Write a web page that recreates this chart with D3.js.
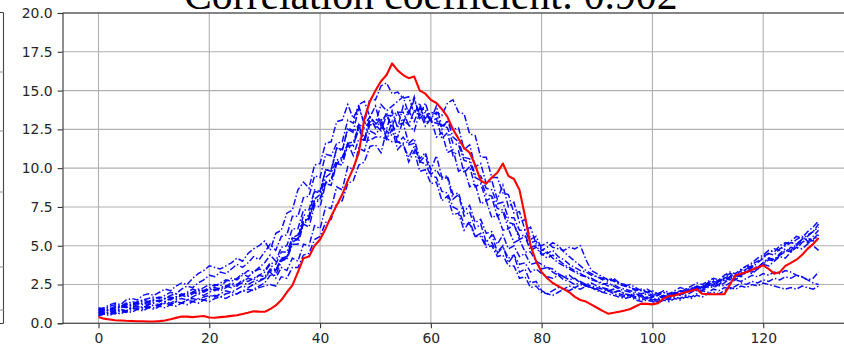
<!DOCTYPE html>
<html><head><meta charset="utf-8">
<script src="https://cdn.jsdelivr.net/npm/d3@7"></script>
<style>html,body{margin:0;padding:0;background:#fff;overflow:hidden}</style>
</head><body><svg id="c" width="844" height="348"></svg>
<script>
const titleText = "Correlation coefficient: 0.902";
const xTicks = [0, 20, 40, 60, 80, 100, 120];
const yTicks = [0, 2.5, 5, 7.5, 10, 12.5, 15, 17.5, 20];
const timeSteps = d3.range(0, 131);

const observed = [
0.40,0.30,0.25,0.20,0.18,0.16,0.15,0.13,0.13,0.12,
0.12,0.14,0.18,0.26,0.35,0.44,0.43,0.40,0.44,0.47,
0.37,0.36,0.40,0.43,0.48,0.52,0.60,0.68,0.77,0.75,
0.74,0.92,1.15,1.50,2.00,2.45,3.30,4.20,4.30,5.00,
5.40,6.10,6.90,7.60,8.30,9.20,10.0,11.0,13.2,14.3,
15.0,15.6,16.0,16.75,16.3,16.0,15.8,15.9,15.0,14.8,
14.4,14.2,13.8,13.3,12.5,11.9,11.3,11.0,10.2,9.2,
9.0,9.4,9.7,10.3,9.5,9.3,8.6,6.9,5.0,4.0,
3.3,2.9,2.6,2.4,2.2,2.0,1.7,1.5,1.4,1.2,
1.0,0.8,0.62,0.68,0.75,0.82,0.92,1.1,1.27,1.25,
1.22,1.3,1.6,1.75,1.8,1.9,2.0,2.1,2.2,1.9,
1.88,1.87,1.87,1.88,2.5,3.1,3.2,3.3,3.45,3.6,
3.74,3.5,3.2,3.3,3.7,3.9,4.1,4.4,4.8,5.1,
5.5];

const member1 = [
0.9,1.0,1.2,1.3,1.2,1.5,1.6,1.5,1.8,1.9,
1.8,2.0,2.2,2.1,2.4,2.6,2.5,2.9,3.2,3.4,
3.7,3.6,3.5,3.7,3.9,4.2,4.0,4.5,4.8,5.0,
5.3,4.7,5.8,6.0,7.1,7.3,8.6,9.1,8.7,10.2,
10.3,11.6,11.7,13.0,13.1,14.1,13.2,14.0,12.8,13.3,
12.6,13.0,11.9,12.5,11.2,11.6,10.4,11.1,9.8,9.9,
9.0,9.1,7.9,8.2,7.0,7.1,6.0,6.6,5.6,5.8,
5.0,5.2,4.5,4.9,4.2,4.4,3.8,3.9,3.3,3.5,
3.2,3.0,2.9,3.1,2.8,2.7,2.5,2.6,2.4,2.3,
2.2,2.3,2.1,2.0,2.1,1.9,1.8,1.7,1.8,1.6,
1.5,1.6,1.8,1.7,1.9,2.1,2.0,2.2,2.4,2.3,
2.6,2.8,2.7,3.0,3.2,3.1,3.4,3.7,3.6,3.9,
4.2,4.5,4.4,4.8,5.0,5.2,5.1,5.4,5.7,5.9,
6.2];
const member2 = [
0.7,0.8,0.9,1.1,1.0,1.2,1.4,1.3,1.5,1.6,
1.7,1.6,1.8,2.0,1.9,2.2,2.4,2.3,2.6,2.8,
3.1,3.0,3.3,3.2,3.5,3.8,3.6,3.9,4.3,4.1,
4.6,5.1,4.7,5.6,5.7,6.9,6.9,8.1,8.2,9.5,
9.4,10.9,10.8,11.6,11.7,13.1,12.9,14.1,14.3,13.3,
14.0,12.7,13.6,12.4,12.8,12.9,11.6,11.9,10.6,11.0,
9.9,10.8,9.4,9.5,8.3,8.4,7.2,7.6,6.5,6.7,
5.8,5.9,5.1,5.7,4.8,5.0,4.3,4.5,3.8,3.9,
3.5,3.6,3.3,3.1,3.0,2.8,2.9,2.6,2.5,2.4,
2.3,2.2,2.1,2.2,1.9,1.8,1.9,1.7,1.6,1.7,
1.6,1.5,1.7,1.6,1.8,1.9,1.8,2.0,2.2,2.1,
2.3,2.5,2.4,2.6,2.9,2.8,3.1,3.3,3.2,3.5,
3.8,3.7,4.0,4.3,4.2,4.6,4.9,4.8,5.1,5.4,
5.8];
const member3 = [
0.8,0.7,0.9,0.8,1.0,1.1,1.0,1.2,1.3,1.2,
1.4,1.5,1.4,1.6,1.7,1.9,1.8,2.0,2.2,2.1,
2.3,2.5,2.4,2.7,2.9,2.8,3.1,3.4,3.3,3.6,
3.9,4.4,4.0,4.9,5.0,6.1,6.1,7.3,7.3,8.6,
8.5,9.9,9.8,11.3,11.1,12.6,12.4,13.9,12.9,14.5,
14.4,15.3,15.5,14.8,14.9,14.5,14.6,13.5,14.2,12.9,
13.2,12.0,12.3,11.0,11.2,9.8,10.0,8.8,9.0,7.7,
7.9,6.8,7.0,6.0,6.1,5.2,5.4,4.6,4.6,4.0,
3.8,3.6,3.5,3.2,3.0,3.1,2.8,2.7,2.5,2.6,
2.4,2.3,2.2,2.0,2.1,1.9,1.8,1.9,1.7,1.6,
1.7,1.8,1.6,1.8,1.9,1.8,2.0,2.2,2.1,2.4,
2.5,2.4,2.7,2.9,2.8,3.1,3.0,3.3,3.6,3.5,
3.8,4.1,4.0,4.4,4.7,4.6,5.0,5.3,5.2,5.6,
6.0];
const member4 = [
0.6,0.7,0.6,0.8,0.9,0.8,1.0,1.1,1.0,1.2,
1.3,1.2,1.4,1.3,1.5,1.6,1.5,1.7,1.9,1.8,
2.0,2.2,2.1,2.3,2.5,2.4,2.7,2.9,2.8,3.1,
3.3,3.8,3.4,4.1,4.1,5.1,5.1,6.4,6.2,7.6,
7.5,9.0,8.9,10.3,10.2,11.5,11.4,12.8,11.8,13.3,
12.9,14.1,13.7,14.0,14.3,14.6,13.5,14.6,13.2,13.6,
13.0,13.2,11.9,12.3,10.8,11.1,9.7,10.1,8.8,9.0,
7.9,8.1,6.9,7.2,6.1,6.4,5.4,5.6,4.7,4.9,
4.4,4.6,4.2,3.9,3.7,3.5,3.3,3.1,3.0,2.8,
2.7,2.6,2.4,2.5,2.3,2.2,2.1,2.0,1.9,2.0,
1.8,1.9,1.7,1.8,2.0,1.9,2.1,2.3,2.2,2.4,
2.6,2.5,2.8,2.7,3.0,3.2,3.1,3.4,3.7,3.6,
3.9,4.2,4.1,4.4,4.6,4.9,4.8,5.2,5.5,5.3,
5.7];
const member5 = [
0.5,0.6,0.7,0.6,0.8,0.7,0.9,1.0,0.9,1.1,
1.0,1.2,1.3,1.2,1.4,1.3,1.5,1.6,1.5,1.7,
1.8,1.7,1.9,2.1,2.0,2.2,2.4,2.3,2.5,2.7,
2.9,3.4,3.3,4.2,4.2,5.5,5.4,7.0,6.9,8.5,
8.4,9.9,9.9,11.3,11.2,12.5,12.3,12.8,12.6,13.0,
12.8,13.2,11.9,13.0,11.6,12.0,11.5,11.6,10.4,10.8,
9.6,9.9,9.3,9.4,8.0,8.3,6.9,7.2,6.1,6.4,
5.2,5.7,4.6,5.0,3.9,4.4,3.3,3.5,2.6,2.7,
2.1,1.9,2.1,2.3,2.2,2.4,2.3,2.5,2.4,2.3,
2.2,2.0,2.1,1.9,1.8,1.7,1.8,1.6,1.5,1.6,
1.5,1.4,1.6,1.5,1.7,1.6,1.8,1.7,1.9,2.1,
2.0,2.2,2.1,2.3,2.2,2.4,2.6,2.5,2.7,2.6,
2.8,2.7,2.9,2.8,3.0,2.9,3.1,3.0,2.8,2.9,
3.3];
const member6 = [
0.9,0.8,1.0,0.9,1.1,1.2,1.1,1.3,1.4,1.3,
1.5,1.4,1.6,1.7,1.6,1.8,1.9,2.0,1.9,2.1,
2.2,2.1,2.3,2.4,2.3,2.5,2.6,2.5,2.7,2.8,
2.9,3.3,2.9,3.6,3.4,4.2,4.0,5.1,5.0,6.3,
6.1,7.5,7.4,8.8,8.6,10.1,9.9,11.3,11.1,12.4,
12.2,12.6,12.5,13.7,12.6,14.0,13.5,14.4,13.4,14.2,
13.1,14.0,12.7,13.0,12.5,12.6,11.2,11.5,10.1,10.3,
9.0,9.2,8.0,8.9,7.5,7.8,6.5,6.7,5.4,5.6,
4.8,4.5,4.7,4.3,4.1,3.8,3.6,3.4,3.3,3.1,
3.0,2.8,2.9,2.7,2.6,2.5,2.3,2.2,2.1,2.0,
2.1,1.9,2.0,1.8,1.9,2.1,2.0,2.2,2.4,2.3,
2.5,2.7,2.6,2.9,3.1,3.0,3.3,3.5,3.8,4.0,
4.3,4.5,4.8,4.7,5.1,5.3,5.6,5.5,5.9,6.2,
6.6];
const member7 = [
0.7,0.6,0.8,0.7,0.9,0.8,1.0,0.9,1.1,1.0,
1.2,1.1,1.3,1.2,1.4,1.3,1.5,1.4,1.6,1.5,
1.7,1.8,1.7,1.9,2.0,1.9,2.1,2.2,2.1,2.3,
2.4,2.5,2.4,3.0,2.9,3.6,3.6,4.4,4.5,5.4,
5.6,6.5,6.7,7.7,7.9,9.0,9.2,10.2,10.4,11.4,
11.5,11.0,12.4,12.1,12.0,13.1,12.8,12.4,13.6,12.7,
13.2,13.6,13.4,14.2,14.4,13.6,13.5,12.2,12.1,10.7,
10.7,9.4,9.4,8.4,8.3,7.1,7.2,6.0,6.2,5.1,
5.0,5.2,4.9,4.8,4.7,4.9,4.8,5.0,4.1,3.4,
3.2,3.0,2.8,2.9,2.6,2.4,2.5,2.3,2.1,2.2,
2.0,1.9,2.1,2.0,1.8,2.0,2.2,2.1,2.3,2.2,
2.4,2.3,2.5,2.4,2.6,2.8,2.7,2.9,3.1,3.0,
3.2,3.1,3.3,3.2,3.4,3.3,3.1,3.0,2.8,2.6,
2.5];
const member8 = [
1.0,0.9,1.1,1.2,1.1,1.3,1.2,1.4,1.5,1.4,
1.6,1.7,1.6,1.8,1.9,1.8,2.0,2.2,2.1,2.3,
2.5,2.4,2.6,2.8,2.7,2.9,3.2,3.0,3.3,3.5,
3.4,3.9,3.8,4.6,4.6,5.5,5.7,6.6,6.8,7.9,
8.0,9.1,9.2,10.3,10.5,11.4,11.5,12.5,11.7,12.8,
12.8,12.4,13.4,12.7,13.6,12.9,13.7,13.0,13.9,13.2,
13.6,13.5,12.5,13.1,12.0,11.7,10.7,10.6,9.6,9.5,
8.7,8.6,7.7,7.8,6.8,6.8,6.0,6.0,5.2,5.3,
4.7,4.9,5.2,5.0,4.6,4.3,4.0,3.7,3.4,3.2,
3.0,2.9,2.7,2.8,2.5,2.4,2.3,2.1,2.2,2.0,
1.9,1.8,2.0,1.9,2.1,2.3,2.2,2.4,2.6,2.5,
2.7,2.9,2.8,3.1,3.3,3.2,3.5,3.7,3.9,4.2,
4.4,4.7,4.6,5.0,5.2,5.1,5.4,5.6,5.3,5.0,
4.7];
const member9 = [
0.5,0.6,0.5,0.7,0.6,0.8,0.7,0.9,0.8,1.0,
0.9,1.1,1.0,1.2,1.1,1.3,1.2,1.4,1.3,1.5,
1.4,1.6,1.7,1.6,1.8,1.9,2.1,2.0,2.2,2.4,
2.6,3.1,3.1,4.0,4.2,5.2,5.5,6.5,6.8,8.0,
8.3,9.4,9.7,10.5,10.7,11.6,10.8,11.9,11.8,11.8,
12.0,12.0,11.9,11.7,11.7,11.5,10.7,11.4,10.4,10.3,
9.5,9.4,8.5,8.4,7.5,7.3,6.4,6.4,5.6,5.6,
4.9,5.0,4.3,4.4,3.7,3.7,2.9,3.0,2.3,2.4,
2.0,1.9,1.8,2.0,2.2,2.1,2.3,2.2,2.4,2.3,
2.1,2.0,1.9,1.8,1.7,1.6,1.7,1.5,1.4,1.5,
1.4,1.3,1.5,1.4,1.6,1.5,1.7,1.6,1.8,1.7,
1.9,2.0,1.9,2.1,2.3,2.2,2.4,2.3,2.5,2.4,
2.6,2.5,2.4,2.3,2.2,2.3,2.2,2.4,2.3,2.2,
2.4];
const member10 = [
0.8,0.9,0.8,1.0,1.1,1.0,1.2,1.3,1.2,1.4,
1.5,1.4,1.6,1.5,1.7,1.8,1.7,1.9,2.1,2.0,
2.2,2.3,2.2,2.4,2.6,2.5,2.8,2.7,2.9,3.1,
3.0,3.5,3.4,4.2,4.3,5.3,5.4,6.4,6.7,7.7,
8.0,9.0,9.3,10.3,10.6,11.6,11.7,12.7,11.9,13.0,
13.1,13.1,13.4,13.4,13.6,13.6,12.8,13.7,13.8,13.8,
13.0,12.9,12.8,12.6,11.6,11.5,10.5,10.4,9.4,9.2,
8.3,8.2,7.4,7.3,6.5,6.4,5.6,5.7,4.9,5.0,
4.5,4.2,4.4,4.1,3.8,3.6,3.4,3.2,3.0,2.9,
2.7,2.5,2.6,2.4,2.2,2.1,2.0,1.9,1.8,1.9,
1.7,1.8,1.6,1.7,1.9,1.8,2.0,2.1,2.3,2.2,
2.4,2.6,2.5,2.8,3.0,2.9,3.2,3.4,3.3,3.6,
3.9,4.2,4.1,4.5,4.8,4.7,5.1,5.4,5.6,5.9,
6.4];
const ensemble = [member1, member2, member3, member4, member5, member6, member7, member8, member9, member10];

const svg = d3.select("#c");
const x = d3.scaleLinear().domain([-6.5, 136.5]).range([62.5, 854.6]);
const y = d3.scaleLinear().domain([0, 20]).range([323.3, 13]);

// fragment of neighbouring panel on the far left
const frag = svg.append("g").attr("stroke", "#444").attr("stroke-width", 1.1);
frag.append("line").attr("x1", 3.5).attr("x2", 3.5).attr("y1", 12.5).attr("y2", 323.5);
frag.append("line").attr("x1", 0).attr("x2", 3.5).attr("y1", 12.5).attr("y2", 12.5);
frag.append("line").attr("x1", 0).attr("x2", 3.5).attr("y1", 323.5).attr("y2", 323.5);
[72, 131, 192, 267, 310].forEach(v => frag.append("line").attr("x1", 0).attr("x2", 3.5).attr("y1", v).attr("y2", v).attr("stroke", "#999"));

// grid
const grid = svg.append("g").attr("stroke", "#b0b0b0").attr("stroke-width", 1.1);
xTicks.forEach(t => grid.append("line").attr("x1", x(t)).attr("x2", x(t)).attr("y1", y(0)).attr("y2", y(20)));
yTicks.forEach(t => grid.append("line").attr("x1", x(-6.5)).attr("x2", 844).attr("y1", y(t)).attr("y2", y(t)));

// lines
const line = d3.line().x((d, i) => x(timeSteps[i])).y(d => y(d));
ensemble.forEach(m => {
  svg.append("path").datum(m).attr("d", line).attr("fill", "none")
    .attr("stroke", "#0000ff").attr("stroke-width", 1.5).attr("stroke-opacity", 0.95)
    .attr("stroke-dasharray", "6.5,2.2,1.5,2.2");
});
svg.append("path").datum(observed).attr("d", line).attr("fill", "none")
  .attr("stroke", "#ff0000").attr("stroke-width", 2.1).attr("stroke-linejoin", "round");

// axes
const xAxis = d3.axisBottom(x).tickValues(xTicks).tickSize(4.9).tickPadding(4.9).tickFormat(d3.format("d"));
const yAxis = d3.axisLeft(y).tickValues(yTicks).tickSize(4.9).tickPadding(4.9).tickFormat(d3.format(".1f"));
const gx = svg.append("g").attr("transform", `translate(0,${y(0)})`).call(xAxis);
const gy = svg.append("g").attr("transform", `translate(${x(-6.5)},0)`).call(yAxis);
[gx, gy].forEach(g => {
  g.select(".domain").attr("stroke", "#333").attr("stroke-width", 1.1);
  g.selectAll(".tick line").attr("stroke", "#333").attr("stroke-width", 1.1);
  g.selectAll(".tick text").attr("fill", "#262626").attr("font-family", "DejaVu Sans").attr("font-size", 13.9);
});
gx.select(".domain").attr("d", `M${x(-6.5)},0H844`);
svg.append("line").attr("x1", x(-6.5)).attr("x2", 844).attr("y1", y(20)).attr("y2", y(20))
  .attr("stroke", "#333").attr("stroke-width", 1.1);

// title (cut off at the top edge, as in the reference)
svg.append("text").attr("x", 184).attr("y", 9).attr("font-family", "Liberation Serif")
  .attr("font-size", 41.7).attr("fill", "#000").text(titleText);
</script></body></html>
